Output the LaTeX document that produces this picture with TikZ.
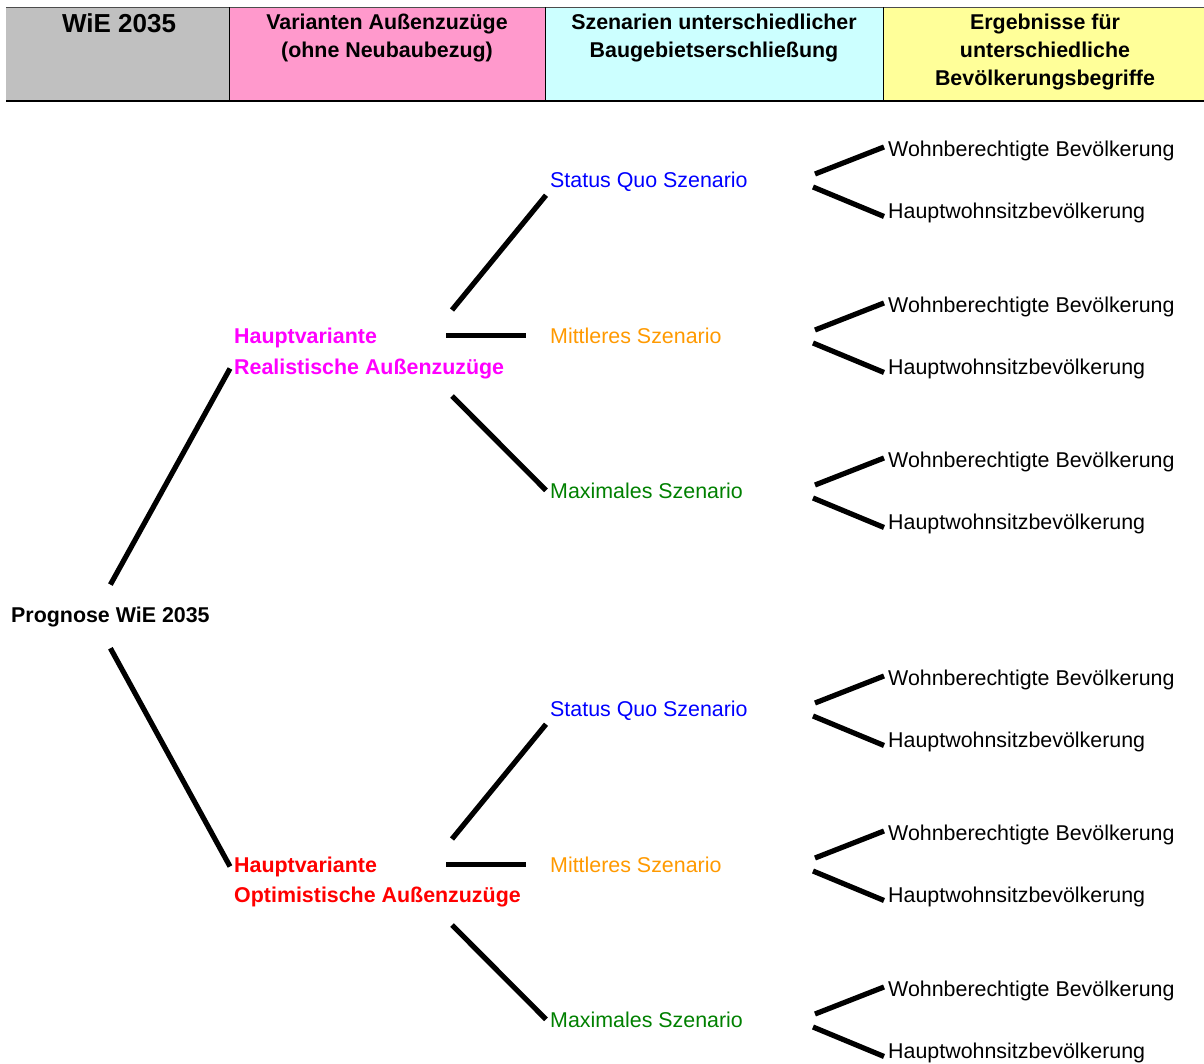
\documentclass[tikz,border=0pt]{standalone}
\usepackage{fontspec}
\setmainfont{Liberation Sans}
\definecolor{headgray}{HTML}{C0C0C0}
\definecolor{headpink}{HTML}{FF99CC}
\definecolor{headcyan}{HTML}{CCFFFF}
\definecolor{headyellow}{HTML}{FFFF99}
\definecolor{sqblue}{HTML}{0000FF}
\definecolor{midorange}{HTML}{FF9900}
\definecolor{maxgreen}{HTML}{008000}
\definecolor{realmagenta}{HTML}{FF00FF}
\tikzset{
  branch/.style={line width=5.2pt},
  lbl/.style={anchor=base west, inner sep=4pt},
  heavy/.style={font=\fontsize{21.4}{28}\selectfont\bfseries},
  headtxt/.style={heavy, align=center, anchor=north, inner sep=0pt},
}

\begin{document}
\begin{tikzpicture}[x=1pt, y=-1pt, every node/.style={font=\fontsize{21.4}{28}\selectfont}]
  \useasboundingbox (0,0) rectangle (1204,1063);

  % header row
  \fill[headgray] (6,7) rectangle (229,101);
  \fill[headpink] (229,7) rectangle (545,101);
  \fill[headcyan] (545,7) rectangle (883,101);
  \fill[headyellow] (883,7) rectangle (1204,101);
  \draw[gray!60!black, line width=1pt] (6,7) -- (1204,7);
  \draw[line width=1.6pt] (6,101) -- (1204,101);
  \foreach \hx in {229,545,883}
    \draw[line width=1pt] (\hx,7) -- (\hx,101);

  \node[font=\fontsize{26}{30}\selectfont\bfseries, anchor=base] (wie) at (119,32) {WiE 2035};
  \node[headtxt] (varianten) at (387,13.7) {Varianten Außenzuzüge\\(ohne Neubaubezug)};
  \node[headtxt] (szenarien) at (714,13.7) {Szenarien unterschiedlicher\\Baugebietserschließung};
  \node[headtxt] (ergebnisse) at (1045,13.7) {Ergebnisse für\\unterschiedliche\\Bevölkerungsbegriffe};

  % tree
  \node[lbl, heavy] (prog) at (7,622) {Prognose WiE 2035};
  \node[lbl, heavy, text=realmagenta] (hvA1) at (230,343) {Hauptvariante};
  \node[lbl, heavy, text=realmagenta] (hvA2) at (230,374) {Realistische Außenzuzüge};
  \node[lbl, heavy, text=red] (hvB1) at (230,872) {Hauptvariante};
  \node[lbl, heavy, text=red] (hvB2) at (230,902) {Optimistische Außenzuzüge};

  \draw[branch] ([yshift=17.7pt]prog.north) -- (hvA2.west);
  \draw[branch] ([yshift=-17.5pt]prog.south) -- (hvB1.west);

  \foreach \h/\hy/\sy in {A/343/187, B/872/716} {
    \node[lbl, text=sqblue] (sq\h) at (546,\sy) {Status Quo Szenario};
    \node[lbl, text=midorange] (mid\h) at (546,\sy+156) {Mittleres Szenario};
    \node[lbl, text=maxgreen] (max\h) at (546,\sy+311) {Maximales Szenario};
    \coordinate (fanup\h) at (452,\hy-33);
    \path (mid\h.west) ++(-100pt,0) coordinate (fanmid\h);
    \coordinate (fandown\h) at (452,\hy+53);
    \draw[branch] (fanup\h) -- (sq\h.south west);
    \draw[branch] (fanmid\h) -- ([xshift=-20pt]mid\h.west);
    \draw[branch] (fandown\h) -- (max\h.west);
  }

  \foreach \gy [count=\i] in {156,312,467,685,840,996} {
    \node[lbl] (wohn\i) at (884,\gy) {Wohnberechtigte Bevölkerung};
    \node[lbl] (hws\i) at (884,\gy+62) {Hauptwohnsitzbevölkerung};
    \coordinate (fw\i) at (815,\gy+18);
    \coordinate (fh\i) at (813,\gy+31);
    \draw[branch] (fw\i) -- ([yshift=3.5pt]wohn\i.west);
    \draw[branch] (fh\i) -- ([yshift=-4pt]hws\i.west);
  }
\end{tikzpicture}
\end{document}
